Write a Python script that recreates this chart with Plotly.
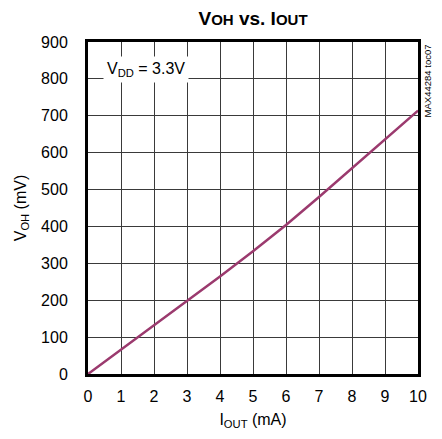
import plotly.graph_objects as go

iout_ma = [0, 1, 2, 3, 4, 5, 6, 7, 8, 9, 10]
voh_mv = [0, 66, 132, 198, 264, 333, 404, 480, 558, 635, 714]

x_ticks = list(range(0, 11))
y_ticks = list(range(0, 901, 100))

FONT = "Liberation Sans, Arial, sans-serif"

fig = go.Figure()
fig.add_trace(go.Scatter(
    x=iout_ma, y=voh_mv, mode="lines",
    line=dict(color="#9B3A6E", width=2.5),
    showlegend=False, hoverinfo="skip",
))

fig.update_layout(
    width=434, height=431,
    margin=dict(l=80, r=24, t=34, b=65, autoexpand=False),
    paper_bgcolor="white", plot_bgcolor="white",
    font=dict(family=FONT, size=16, color="black"),
    title=dict(
        text="<b>V<span style='font-size:15px'>OH</span> vs. I<span style='font-size:15px'>OUT</span></b>",
        x=0.5, xref="paper", xanchor="center", y=0.977, yanchor="middle",
        font=dict(family=FONT, size=19, color="black"),
    ),
    xaxis=dict(
        range=[0, 10], tickvals=x_ticks, ticktext=[str(v) for v in x_ticks],
        showgrid=True, gridcolor="#3a3a3a", gridwidth=1,
        showline=True, linecolor="black", linewidth=3, mirror=True,
        zeroline=False, ticks="", ticklen=0, automargin=False,
        ticklabelstandoff=6,
        title=dict(text="I<sub>OUT</sub> (mA)", font=dict(size=16), standoff=10),
        tickfont=dict(size=16),
    ),
    yaxis=dict(
        range=[0, 900], tickvals=y_ticks, ticktext=[str(v) for v in y_ticks],
        showgrid=True, gridcolor="#3a3a3a", gridwidth=1,
        showline=True, linecolor="black", linewidth=3, mirror=True,
        zeroline=False, ticks="", ticklen=0, automargin=False,
        ticklabelstandoff=14,
        title=dict(text="V<sub>OH</sub> (mV)", font=dict(size=16), standoff=11),
        tickfont=dict(size=16),
    ),
)

fig.add_annotation(
    x=0.045, y=0.916, xref="paper", yref="paper", xanchor="left", yanchor="middle",
    text="V<sub>DD</sub> = 3.3V", showarrow=False,
    bgcolor="white", borderpad=3, font=dict(size=16, color="black"),
)

fig.add_annotation(
    x=1.03, y=1.0, xref="paper", yref="paper", xanchor="center", yanchor="top",
    text="MAX44284 toc07", showarrow=False, textangle=-90,
    font=dict(size=9.5, color="black"),
)

fig.write_html("out.html")
